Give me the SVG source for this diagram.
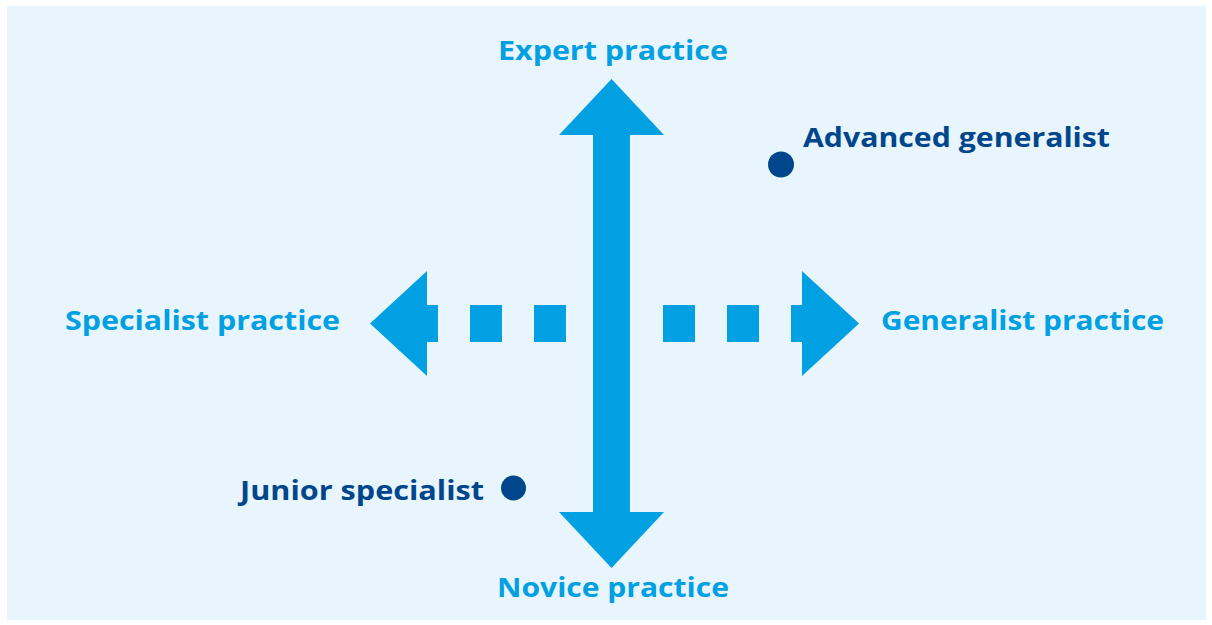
<svg xmlns="http://www.w3.org/2000/svg" width="1212" height="625" viewBox="0 0 1212 625">
  <style>
    .axis { fill: #00A0E3; }
    .dot { fill: #00468C; }
    .lbl { font-family: "Open Sans", "Liberation Sans", sans-serif; font-weight: 700; font-size: 26.5px; }
    .axis-lbl { fill: #00A0E3; }
    .pt-lbl { fill: #00468C; }
  </style>
  <rect x="0" y="0" width="1212" height="625" fill="#FFFFFF"/>
  <rect x="7" y="6" width="1199" height="614" fill="#E8F5FD"/>

  <g id="connectors">
    <!-- horizontal dashed axis: arrowheads with short stubs and square dashes -->
    <g id="h-axis" class="axis">
      <polygon points="370,323.5 427,271 427,305 438,305 438,342 427,342 427,376"/>
      <rect x="470" y="305" width="32" height="37"/>
      <rect x="534" y="305" width="32" height="37"/>
      <rect x="663" y="305" width="32" height="37"/>
      <rect x="727" y="305" width="32" height="37"/>
      <polygon points="859,323.5 802,271 802,305 791,305 791,342 802,342 802,376"/>
    </g>
    <!-- vertical solid double-headed axis -->
    <polygon id="v-axis" class="axis" points="611.5,79 664,135 630,135 630,512 664,512 611.5,568 559,512 593,512 593,135 559,135"/>
  </g>

  <g id="expert"><text class="lbl axis-lbl" x="498" y="60" textLength="230" lengthAdjust="spacingAndGlyphs">Expert practice</text></g>
  <g id="novice"><text class="lbl axis-lbl" x="497" y="597" textLength="232" lengthAdjust="spacingAndGlyphs">Novice practice</text></g>
  <g id="specialist"><text class="lbl axis-lbl" x="65" y="330" textLength="275" lengthAdjust="spacingAndGlyphs">Specialist practice</text></g>
  <g id="generalist"><text class="lbl axis-lbl" x="881" y="330" textLength="283" lengthAdjust="spacingAndGlyphs">Generalist practice</text></g>
  <g id="advanced-generalist">
    <circle class="dot" cx="781" cy="164.5" r="13"/>
    <text class="lbl pt-lbl" x="803" y="147" textLength="307" lengthAdjust="spacingAndGlyphs">Advanced generalist</text>
  </g>
  <g id="junior-specialist">
    <circle class="dot" cx="513.5" cy="488" r="12.5"/>
    <text class="lbl pt-lbl" x="240" y="500" textLength="244" lengthAdjust="spacingAndGlyphs">Junior specialist</text>
  </g>
</svg>
